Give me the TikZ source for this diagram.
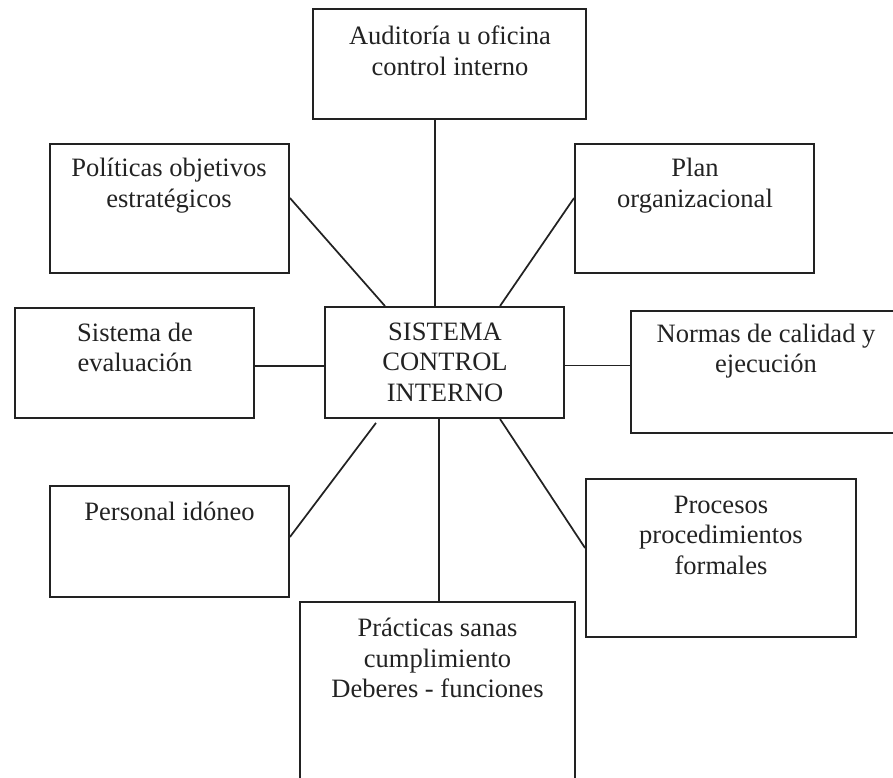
\documentclass[tikz,border=0pt]{standalone}
\usepackage{fontspec}
\setmainfont{Liberation Serif}
\newdimen\pxu
\pxu=0.75pt
\definecolor{ink}{HTML}{222222}
\tikzset{
  box/.style={draw=ink, line width=1.4pt, rectangle, inner sep=0pt},
  lbl/.style={align=center, text=ink, inner sep=0pt, font=\fontsize{19.9pt}{22.9pt}\selectfont},
  link/.style={draw=ink, line width=1.3pt}
}
\begin{document}
\begin{tikzpicture}[x=0.75pt, y=-0.75pt]
\useasboundingbox (0,0) rectangle (893,778);
\clip (0,0) rectangle (893,778);
% boxes
\node[box, minimum width=273\pxu, minimum height=110\pxu] (aud) at (449.5,64) {};
\node[box, minimum width=239\pxu, minimum height=129\pxu] (pol) at (169.5,208.5) {};
\node[box, minimum width=239\pxu, minimum height=129\pxu] (plan) at (694.5,208.5) {};
\node[box, minimum width=239\pxu, minimum height=111\pxu] (sis) at (444.5,362.5) {};
\node[box, minimum width=239\pxu, minimum height=110\pxu] (eval) at (134.5,363) {};
\node[box, minimum width=270\pxu, minimum height=122\pxu] (norm) at (766,372) {};
\node[box, minimum width=239\pxu, minimum height=111\pxu] (pers) at (169.5,541.5) {};
\node[box, minimum width=270\pxu, minimum height=158\pxu] (proc) at (721,558) {};
\node[box, minimum width=275\pxu, minimum height=200\pxu] (prac) at (437.5,702) {};
% texts
\node[lbl] (taud) at (450,51) {Auditoría u oficina\\control interno};
\node[lbl] (tpol) at (169,185.5) {Políticas objetivos\\estratégicos};
\node[lbl] (tplan) at (695,185.5) {Plan\\organizacional};
\node[lbl] (tsis) at (445,362) {SISTEMA\\CONTROL\\INTERNO};
\node[lbl] (teval) at (135,347.5) {Sistema de\\evaluación};
\node[lbl] (tnorm) at (766,351) {Normas de calidad y\\ejecución};
\node[lbl] (tpers) at (169.5,511) {Personal idóneo};
\node[lbl] (tproc) at (721,535) {Procesos\\procedimientos\\formales};
\node[lbl] (tprac) at (437.5,658) {Prácticas sanas\\cumplimiento\\Deberes - funciones};
% connectors
\draw[link] ([xshift=-14.5\pxu]aud.south) coordinate (a1) -- (a1 |- sis.north);
\draw[link] ([yshift=10.5\pxu]pol.east) -- ([xshift=-59.5\pxu]sis.north);
\draw[link] ([yshift=10.5\pxu]plan.west) -- ([xshift=55.5\pxu]sis.north);
\draw[link] ([yshift=-3\pxu]eval.east) coordinate (e1) -- (e1 -| sis.west);
\draw[link] ([yshift=-3\pxu]sis.east) coordinate (n1) -- (n1 -| norm.west);
\draw[link] ([yshift=4.5\pxu]pers.east) -- ([xshift=-68.5\pxu,yshift=-4\pxu]sis.south);
\draw[link] ([xshift=55.5\pxu]sis.south) -- ([yshift=10\pxu]proc.west);
\draw[link] ([xshift=-5.5\pxu]sis.south) coordinate (b1) -- (b1 |- prac.north);
\end{tikzpicture}
\end{document}
